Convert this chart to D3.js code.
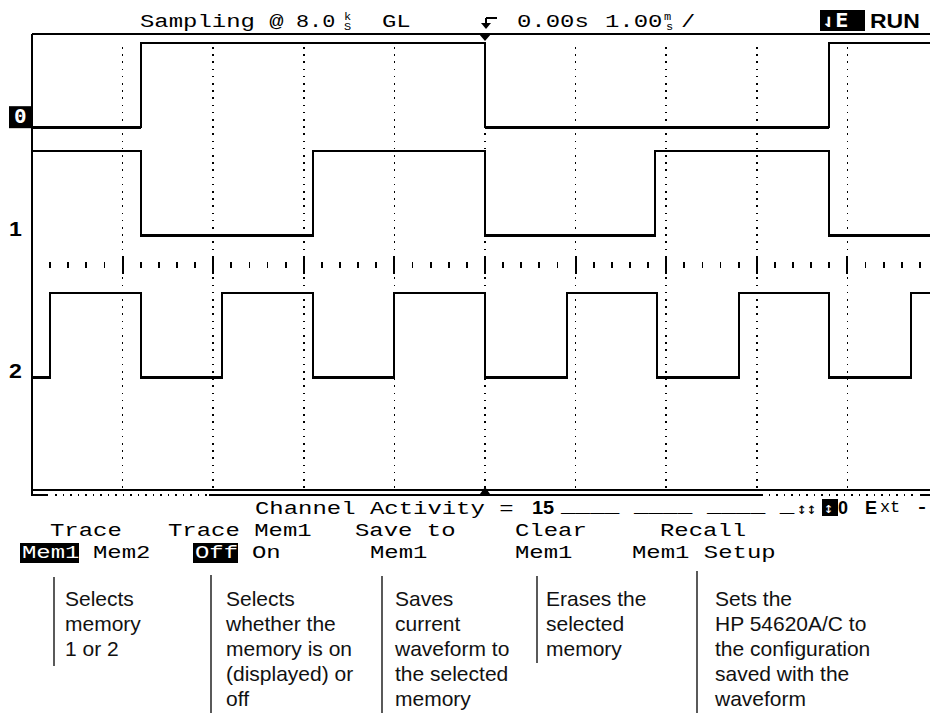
<!DOCTYPE html>
<html><head><meta charset="utf-8">
<script src="https://cdn.jsdelivr.net/npm/d3@7"></script>
<style>html,body{margin:0;padding:0;background:#fff;overflow:hidden}</style>
</head><body><svg id="c" width="930" height="713"></svg>
<script>
// ---- data ----
const channelNames = ["0", "1", "2"];
const ch0Edges = [-3.80, 0.00, 3.80];
const ch1Edges = [-3.80, -1.90, 0.00, 1.88, 3.80];
const ch2Edges = [-4.80, -3.80, -2.90, -1.90, -1.00, 0.00, 0.90, 1.90, 2.80, 3.80, 4.70];
const startLevels = [0, 1, 0];
const channelOffsets = [6.45, 4.52, 2.0];   // low level, in vertical divisions
const amplitude = 1.5;                      // divisions
const timeDomain = [-5, 5];                 // ms (1.00 ms/div)
const memoryWindow = [-3.05, 3.05];
const softkeyTop = ["Trace", "Trace Mem1", "Save to", "Clear", "Recall"];
const softkeyBottom = ["Mem1", "Mem2", "Off", "On", "Mem1", "Mem1", "Mem1 Setup"];
const notes = [
  ["Selects", "memory", "1 or 2"],
  ["Selects", "whether the", "memory is on", "(displayed) or", "off"],
  ["Saves", "current", "waveform to", "the selected", "memory"],
  ["Erases the", "selected", "memory"],
  ["Sets the", "HP 54620A/C to", "the configuration", "saved with the", "waveform"]
];

// ---- setup ----
const svg = d3.select("#c");
const x = d3.scaleLinear().domain(timeDomain).range([32, 938]);
const y = d3.scaleLinear().domain([0, 8]).range([490, 40]);
const MONO = "'Liberation Mono', 'DejaVu Sans Mono', monospace";
const SANS = "'Liberation Sans', Arial, sans-serif";

function mono(x0, y0, s, o = {}) {
  const t = svg.append("text")
    .attr("transform", `translate(${x0},${y0}) scale(${o.sx || 1.26},1)`)
    .attr("font-family", o.family || MONO)
    .attr("font-size", o.size || 19)
    .attr("fill", o.fill || "#000")
    .text(s);
  if (o.bold) t.attr("font-weight", "bold");
  return t;
}
function inv(x0, y0, w, h) {
  svg.append("rect").attr("x", x0).attr("y", y0).attr("width", w).attr("height", h).attr("fill", "#000");
}

// ---- graticule ----
const grid = svg.append("g").attr("shape-rendering", "crispEdges");
x.ticks(10).filter(d => d > timeDomain[0]).forEach(t => {
  grid.append("line").attr("x1", x(t)).attr("x2", x(t))
    .attr("y1", y(8) + 7).attr("y2", 490)
    .attr("stroke", "#000").attr("stroke-width", 1.6).attr("stroke-dasharray", "1.6 5.6");
});
x.ticks(50).filter(d => d > timeDomain[0] + 1e-9).forEach(t => {
  const major = Math.abs(t - Math.round(t)) < 1e-6;
  grid.append("line").attr("x1", x(t)).attr("x2", x(t))
    .attr("y1", y(4) + (major ? -9 : -3)).attr("y2", y(4) + (major ? 9 : 3))
    .attr("stroke", "#000").attr("stroke-width", major ? 2 : 1.8);
});

// ---- frame ----
const fr = svg.append("g").attr("stroke", "#000").attr("fill", "none").attr("shape-rendering", "crispEdges");
fr.append("line").attr("x1", 32).attr("x2", 930).attr("y1", 34).attr("y2", 34).attr("stroke-width", 2);
fr.append("line").attr("x1", 32).attr("x2", 32).attr("y1", 34).attr("y2", 496).attr("stroke-width", 2);
fr.append("line").attr("x1", 32).attr("x2", 930).attr("y1", 490).attr("y2", 490).attr("stroke-width", 2);
fr.append("line").attr("x1", 32).attr("x2", 48).attr("y1", 495).attr("y2", 495).attr("stroke-width", 2);
fr.append("line").attr("x1", 55).attr("x2", x(memoryWindow[0])).attr("y1", 495).attr("y2", 495)
  .attr("stroke-width", 1.6).attr("stroke-dasharray", "1.6 5.9");
fr.append("line").attr("x1", x(memoryWindow[0])).attr("x2", x(memoryWindow[1])).attr("y1", 495).attr("y2", 495).attr("stroke-width", 2);
fr.append("line").attr("x1", x(memoryWindow[1])).attr("x2", 917).attr("y1", 495).attr("y2", 495)
  .attr("stroke-width", 1.6).attr("stroke-dasharray", "1.6 5.9");
fr.append("line").attr("x1", 920).attr("x2", 930).attr("y1", 495).attr("y2", 495).attr("stroke-width", 2);
svg.append("path").attr("d", `M${x(0) - 6},34 L${x(0) + 6},34 L${x(0)},41 Z`).attr("fill", "#000");
svg.append("path").attr("d", `M${x(0) - 5},494 L${x(0) + 5},494 L${x(0)},487 Z`).attr("fill", "#000");

// ---- waveforms ----
const edgesAll = [ch0Edges, ch1Edges, ch2Edges];
const line = d3.line().x(d => x(d.t)).y(d => d.y).curve(d3.curveStepAfter);
const wg = svg.append("g").attr("fill", "none").attr("stroke", "#000").attr("shape-rendering", "crispEdges");
edgesAll.forEach((edges, i) => {
  let v = startLevels[i];
  const pts = [{ t: timeDomain[0], v }];
  edges.forEach(e => { v = 1 - v; pts.push({ t: e, v }); });
  pts.push({ t: timeDomain[1], v });
  pts.forEach(p => p.y = y(channelOffsets[i] + p.v * amplitude));
  wg.append("path").attr("d", line(pts)).attr("stroke-width", 2);
  for (let k = 0; k < pts.length - 1; k++) {
    if (pts[k].v === 0) {
      wg.append("line").attr("x1", x(pts[k].t)).attr("x2", x(pts[k + 1].t))
        .attr("y1", pts[k].y).attr("y2", pts[k].y).attr("stroke-width", 3);
    }
  }
});

// channel labels
channelNames.forEach((n, i) => {
  const yl = y(channelOffsets[i]);
  if (i === 0) {
    inv(9, yl - 21, 23, 22);
    mono(14, yl - 4, n, { fill: "#fff", bold: true, size: 19, sx: 1.1, family: "'DejaVu Sans Mono', monospace" });
  } else {
    mono(9, yl, n, { bold: true, size: 21, sx: 1.1, family: SANS });
  }
});

// ---- header ----
mono(140, 27, "Sampling @");
mono(296, 27, "8.0", { sx: 1.15 });
mono(344, 20, "k", { size: 10, sx: 1.2 });
mono(344, 30, "S", { size: 10, sx: 1.2 });
mono(382, 27, "GL");
svg.append("path").attr("d", "M486,18 L497,18 M486,18 L486,27").attr("stroke", "#000").attr("stroke-width", 2).attr("fill", "none");
svg.append("path").attr("d", "M481,23 L491,23 L486,29 Z").attr("fill", "#000");
mono(517, 27, "0.00s");
mono(605, 27, "1.00");
mono(664, 20, "m", { size: 10, sx: 1.2 });
mono(666, 30, "s", { size: 10, sx: 1.2 });
mono(681, 27, "/");
inv(820, 10, 45, 21);
mono(822, 27, "⇃E", { fill: "#fff", bold: true, size: 19, sx: 1.15, family: "'DejaVu Sans Mono', monospace" });
mono(870, 28, "RUN", { bold: true, size: 20, sx: 1.15, family: SANS });

// ---- status line ----
mono(255, 514, "Channel Activity = ");
mono(532, 514, "15", { bold: true, size: 19, sx: 1.05, family: SANS });
mono(561, 512, "____ ____ ____ _", { bold: true, sx: 1.28 });
mono(797, 514, "↕↕", { size: 16, sx: 1.0, family: "'DejaVu Sans Mono', monospace" });
inv(822, 499, 16, 17);
mono(824, 513, "↕", { fill: "#fff", size: 15, sx: 1.0, family: "'DejaVu Sans Mono', monospace" });
mono(838, 514, "0", { bold: true, size: 18, sx: 1.0, family: SANS });
mono(865, 514, "E", { bold: true, size: 18, sx: 1.0, family: SANS });
mono(880, 512, "xt", { size: 16, sx: 1.05 });
mono(916, 512, "-", { bold: true, size: 16 });

// ---- softkeys ----
const topX = [50, 168, 355, 515, 660];
softkeyTop.forEach((s, i) => mono(topX[i], 536, s));
const botX = [22, 93, 195, 252, 370, 515, 632];
inv(20, 543, 59, 20);
inv(193, 543, 45, 20);
softkeyBottom.forEach((s, i) => mono(botX[i], 558, s, { fill: (i === 0 || i === 2) ? "#fff" : "#000" }));

// ---- annotations ----
const noteLineX = [54, 211, 382, 537, 697];
const noteTextX = [65, 226, 395, 546, 715];
const noteTop = [577, 575, 576, 576, 571];
const noteBottom = [666, 713, 713, 663, 713];
notes.forEach((ls, i) => {
  svg.append("line").attr("x1", noteLineX[i]).attr("x2", noteLineX[i])
    .attr("y1", noteTop[i]).attr("y2", noteBottom[i]).attr("stroke", "#000").attr("stroke-width", 1.3);
  ls.forEach((s, j) => {
    svg.append("text").attr("x", noteTextX[i]).attr("y", 606 + j * 25)
      .attr("font-family", SANS).attr("font-size", 21)
      .attr("fill", "#111").text(s);
  });
});
</script></body></html>
